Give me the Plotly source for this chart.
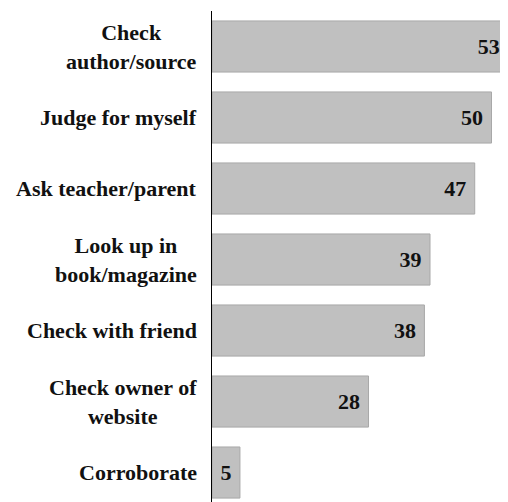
import plotly.graph_objects as go

categories = ["Check<br>author/source", "Judge for myself", "Ask teacher/parent",
              "Look up in<br>book/magazine", "Check with friend",
              "Check owner of<br>website", "Corroborate"]
values = [53, 50, 47, 39, 38, 28, 5]

FONT = "Liberation Serif"
ypos = list(range(len(categories)))

fig = go.Figure(go.Bar(
    y=ypos,
    x=values,
    orientation="h",
    width=0.72,
    marker=dict(color="#c0c0c0", line=dict(color="#a8a8a8", width=1)),
    texttemplate="<b>%{x}</b>\u00a0",
    textposition="inside",
    insidetextanchor="end",
    textfont=dict(family=FONT, size=22, color="#111111"),
    cliponaxis=True,
    hoverinfo="skip",
))

for yv, cat in zip(ypos, categories):
    fig.add_annotation(
        x=0, y=yv, xref="x", yref="y",
        text="<b>" + cat.replace("<br>", "</b><br><b>") + "</b>",
        showarrow=False, xanchor="right", yanchor="middle",
        align="center", xshift=-13,
        font=dict(family=FONT, size=22, color="#111111"),
    )

# page body has an 8px default margin, so the figure is sized to fit the view
fig.update_layout(
    width=492, height=494,
    margin=dict(l=204, r=0, t=3, b=0, autoexpand=False),
    paper_bgcolor="white", plot_bgcolor="white",
    showlegend=False,
)
fig.update_xaxes(range=[0, 51.52], visible=False, showgrid=False, zeroline=False)
fig.update_yaxes(
    range=[6.415, -0.5],
    showticklabels=False,
    showgrid=False, zeroline=False, automargin=False,
    showline=True, linecolor="black", linewidth=1.2,
    ticks="",
)

fig.write_html("out.html")
